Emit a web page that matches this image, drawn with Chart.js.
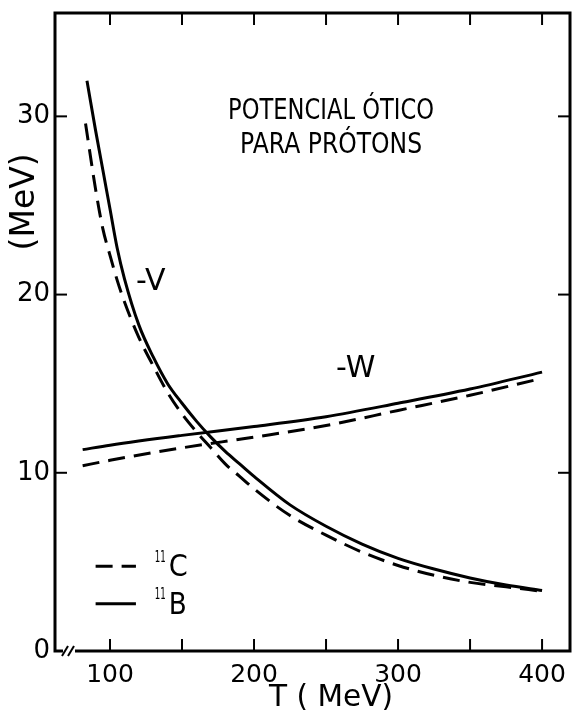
<!DOCTYPE html>
<html>
<head>
<meta charset="utf-8">
<script src="https://cdn.jsdelivr.net/npm/chart.js@4.4.1/dist/chart.umd.min.js"></script>
<style>
  html, body { margin: 0; padding: 0; background: #fff; }
  #wrap { width: 572px; height: 717px; }
</style>
</head>
<body>
<div id="wrap"><canvas id="chart"></canvas></div>
<script>
// -V (real part), 11B solid / 11C dashed
const energyV_B = [84, 90, 95, 100, 105, 110, 120, 130, 140, 150, 160, 170, 180, 190, 200, 225, 250, 275, 300, 325, 350, 375, 400];
const potV_B    = [32.0, 29.2, 27.0, 24.8, 22.6, 20.9, 18.3, 16.5, 15.0, 13.9, 12.9, 12.0, 11.2, 10.5, 9.8, 8.2, 7.0, 6.0, 5.2, 4.6, 4.1, 3.7, 3.4];
const energyV_C = [83, 90, 95, 100, 105, 110, 120, 130, 140, 150, 160, 170, 180, 190, 200, 225, 250, 275, 300, 325, 350, 375, 400];
const potV_C    = [29.6, 25.9, 23.7, 22.2, 20.8, 19.6, 17.6, 16.0, 14.5, 13.3, 12.3, 11.4, 10.5, 9.8, 9.1, 7.6, 6.5, 5.55, 4.8, 4.25, 3.85, 3.6, 3.35];

// -W (imaginary part)
const energyW = [81, 100, 150, 200, 250, 300, 350, 400];
const potW_B  = [11.3, 11.55, 12.1, 12.6, 13.15, 13.9, 14.7, 15.65];
const potW_C  = [10.4, 10.7, 11.4, 12.0, 12.65, 13.5, 14.35, 15.3];

const xTicks = [100, 150, 200, 250, 300, 350, 400];
const xLabels = [100, 200, 300, 400];
const yTicks = [0, 10, 20, 30];

const titleLines = ['POTENCIAL ÓTICO', 'PARA PRÓTONS'];
const FONT = '"DejaVu Sans", "Liberation Sans", sans-serif';

function toPoints(xs, ys) {
    return xs.map((x, i) => ({ x: x, y: ys[i] }));
}

function curve(label, xs, ys, dashed) {
    return {
        label: label,
        data: toPoints(xs, ys),
        borderColor: '#000',
        borderWidth: 3,
        borderDash: dashed ? [17, 9] : [],
        pointRadius: 0,
        fill: false,
        cubicInterpolationMode: 'monotone'
    };
}

// tick labels must not push the plot frame inwards
function noOverflow(s) {
    s.paddingTop = 0; s.paddingBottom = 0;
    s.paddingLeft = 0; s.paddingRight = 0;
}

// frame, inward ticks, and the hand lettering
const plateNotes = {
    id: 'plateNotes',
    afterDatasetsDraw(chart) {
        const { ctx, chartArea: a, scales: { x, y } } = chart;
        const seg = (x1, y1, x2, y2) => {
            ctx.beginPath(); ctx.moveTo(x1, y1); ctx.lineTo(x2, y2); ctx.stroke();
        };
        ctx.save();
        ctx.strokeStyle = '#000';
        ctx.fillStyle = '#000';
        ctx.setLineDash([]);

        ctx.lineWidth = 3;
        ctx.strokeRect(a.left, a.top, a.right - a.left, a.bottom - a.top);

        ctx.lineWidth = 2;
        xTicks.forEach(v => {
            const px = x.getPixelForValue(v);
            seg(px, a.bottom, px, a.bottom - 12);
            seg(px, a.top, px, a.top + 12);
        });
        yTicks.slice(1).forEach(v => {
            const py = y.getPixelForValue(v);
            seg(a.left, py, a.left + 12, py);
            seg(a.right, py, a.right - 12, py);
        });

        // axis break on T
        const bx = a.left + 10;
        ctx.fillStyle = '#fff';
        ctx.fillRect(bx - 2, a.bottom - 3, 12, 6);
        ctx.fillStyle = '#000';
        seg(bx - 3, a.bottom + 5, bx + 3, a.bottom - 5);
        seg(bx + 3, a.bottom + 5, bx + 9, a.bottom - 5);

        // title
        ctx.textAlign = 'center';
        ctx.textBaseline = 'middle';
        ctx.font = '29px ' + FONT;
        const cx = x.getPixelForValue(253.5);
        ctx.fillText(titleLines[0], cx, y.getPixelForValue(30.3), 206);
        ctx.fillText(titleLines[1], cx, y.getPixelForValue(28.35), 182);

        // curve labels
        ctx.font = '30px ' + FONT;
        ctx.textAlign = 'left';
        ctx.fillText('-V', x.getPixelForValue(118), y.getPixelForValue(20.7), 34);
        ctx.fillText('-W', x.getPixelForValue(257), y.getPixelForValue(15.8), 46);

        // legend
        ctx.lineWidth = 3;
        const lx0 = x.getPixelForValue(90), lx1 = x.getPixelForValue(118);
        const yC = y.getPixelForValue(4.75), yB = y.getPixelForValue(2.65);
        ctx.setLineDash([17, 9]);
        seg(lx0, yC, lx1, yC);
        ctx.setLineDash([]);
        seg(lx0, yB, lx1, yB);
        const tx = x.getPixelForValue(131);
        ctx.font = '16px ' + FONT;
        ctx.fillText('11', tx, yC - 9, 11);
        ctx.fillText('11', tx, yB - 9, 11);
        ctx.font = '30px ' + FONT;
        ctx.fillText('C', tx + 14, yC + 2, 19);
        ctx.fillText('B', tx + 14, yB + 2, 18);

        // axis titles
        ctx.font = '30px ' + FONT;
        ctx.textAlign = 'center';
        ctx.fillText('T ( MeV)', x.getPixelForValue(253.5), 698, 124);
        ctx.save();
        ctx.translate(25, y.getPixelForValue(25.2));
        ctx.rotate(-Math.PI / 2);
        ctx.font = '33px ' + FONT;
        ctx.fillText('(MeV)', 0, 0, 106);
        ctx.restore();

        ctx.restore();
    }
};

new Chart(document.getElementById('chart'), {
    type: 'line',
    data: {
        datasets: [
            curve('-V 11B', energyV_B, potV_B, false),
            curve('-V 11C', energyV_C, potV_C, true),
            curve('-W 11B', energyW, potW_B, false),
            curve('-W 11C', energyW, potW_C, true)
        ]
    },
    options: {
        responsive: true,
        maintainAspectRatio: false,
        animation: false,
        layout: { padding: { top: 13, right: 2, left: 0, bottom: 0 } },
        plugins: { legend: { display: false }, tooltip: { enabled: false } },
        scales: {
            x: {
                type: 'linear',
                min: 61.8,
                max: 419.4,
                afterBuildTicks: s => { s.ticks = xTicks.map(v => ({ value: v })); },
                afterFit: s => { s.height = 66; noOverflow(s); },
                grid: { display: false, drawTicks: false },
                border: { display: false },
                ticks: {
                    color: '#000',
                    padding: 9,
                    maxRotation: 0,
                    autoSkip: false,
                    font: { family: 'DejaVu Sans', size: 25 },
                    callback: v => xLabels.includes(v) ? String(v) : ''
                }
            },
            y: {
                min: 0,
                max: 35.8,
                afterBuildTicks: s => { s.ticks = yTicks.map(v => ({ value: v })); },
                afterFit: s => { s.width = 55; noOverflow(s); },
                grid: { display: false, drawTicks: false },
                border: { display: false },
                ticks: {
                    color: '#000',
                    padding: 5,
                    font: { family: 'DejaVu Sans', size: 26 }
                }
            }
        }
    },
    plugins: [plateNotes]
});
</script>
</body>
</html>
